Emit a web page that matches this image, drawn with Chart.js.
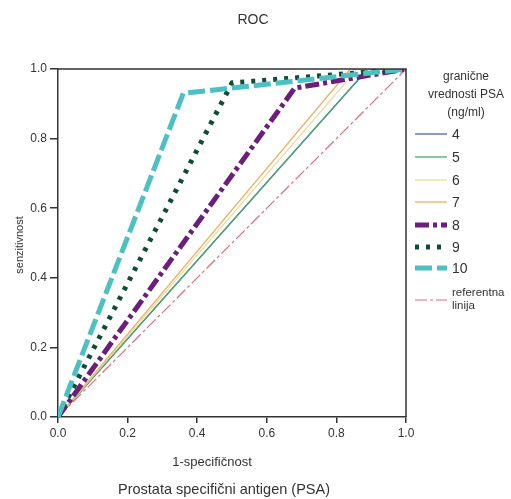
<!DOCTYPE html>
<html><head><meta charset="utf-8">
<script src="https://cdn.jsdelivr.net/npm/chart.js@4"></script>
<style>html,body{margin:0;padding:0;background:#fff}#wrap{width:511px;height:499px;position:relative}</style>
</head><body><div id="wrap"><canvas id="c" width="511" height="499"></canvas></div>
<script>
// Data
const seriesNames = ["4","5","6","7","8","9","10"];
const fpr4 = [0, 0.89, 1];   const tpr4 = [0, 1, 1];
const fpr5 = [0, 0.89, 1];   const tpr5 = [0, 1, 1];
const fpr6 = [0, 0.86, 1];   const tpr6 = [0, 1, 1];
const fpr7 = [0, 0.84, 1];   const tpr7 = [0, 1, 1];
const fpr8 = [0, 0.68, 1];   const tpr8 = [0, 0.945, 1];
const fpr9 = [0, 0.50, 1];   const tpr9 = [0, 0.96, 1];
const fpr10 = [0, 0.36, 1];  const tpr10 = [0, 0.93, 1];
const refX = [0, 1];         const refY = [0, 1];
const tickValues = [0, 0.2, 0.4, 0.6, 0.8, 1.0];

const pts = (xs, ys) => xs.map((x, i) => ({x, y: ys[i]}));
const styles = [
  {color:'#3a56a8', width:1.2, dash:[], order:6},
  {color:'#4fa86c', width:1.3, dash:[], order:5},
  {color:'#eddca4', width:1.3, dash:[], order:4},
  {color:'#e9b262', width:1.3, dash:[], order:3},
  {color:'#6b1f7a', width:5, dash:[14,4,4,4], order:2},
  {color:'#0f4a3a', width:5, dash:[4,7], order:1},
  {color:'#4cc0c2', width:5, dash:[17,5], order:0},
];
const refStyle = {color:'#d4707e', width:1.2, dash:[12,3,3,3]};
const xs = [fpr4,fpr5,fpr6,fpr7,fpr8,fpr9,fpr10];
const ys = [tpr4,tpr5,tpr6,tpr7,tpr8,tpr9,tpr10];

const datasets = seriesNames.map((n, i) => ({
  label: n, data: pts(xs[i], ys[i]), showLine: true, borderColor: styles[i].color,
  borderWidth: styles[i].width, borderDash: styles[i].dash, pointRadius: 0,
  tension: 0, fill: false, order: styles[i].order, borderCapStyle: 'butt'
}));
datasets.push({label:'referentna linija', data: pts(refX, refY), showLine:true,
  borderColor: refStyle.color, borderWidth: refStyle.width, borderDash: refStyle.dash,
  pointRadius:0, tension:0, fill:false, order:10});

const FONT = '"Liberation Sans", Arial, sans-serif';
const TXT = '#333';

const deco = {
  id: 'deco',
  afterDraw(chart) {
    const ctx = chart.ctx, a = chart.chartArea;
    ctx.save();
    // frame top and right
    ctx.strokeStyle = '#333'; ctx.lineWidth = 1.5;
    ctx.beginPath(); ctx.moveTo(a.left, a.top); ctx.lineTo(a.right, a.top); ctx.lineTo(a.right, a.bottom); ctx.stroke();
    ctx.fillStyle = TXT; ctx.textAlign = 'center'; ctx.textBaseline = 'middle';
    ctx.font = '14px ' + FONT; ctx.fillText('ROC', 253, 20);
    ctx.font = '13px ' + FONT; ctx.fillText('1-specifičnost', 212, 462);
    ctx.font = '14.5px ' + FONT; ctx.fillText('Prostata specifični antigen (PSA)', 224, 490);
    ctx.save(); ctx.translate(20, 245); ctx.rotate(-Math.PI/2);
    ctx.font = '11px ' + FONT; ctx.fillText('senzitivnost', 0, 0); ctx.restore();
    // legend
    ctx.font = '12px ' + FONT;
    ctx.fillText('granične', 466, 77); ctx.fillText('vrednosti PSA', 466, 95); ctx.fillText('(ng/ml)', 466, 113);
    const ly = [134,157,180,202,225,247,268];
    ctx.textAlign = 'left';
    seriesNames.forEach((n, i) => {
      const s = styles[i];
      ctx.strokeStyle = s.color; ctx.lineWidth = s.width; ctx.setLineDash(s.dash);
      ctx.beginPath(); ctx.moveTo(415, ly[i]); ctx.lineTo(447, ly[i]); ctx.stroke();
      ctx.setLineDash([]);
      ctx.font = '14px ' + FONT; ctx.fillText(n, 452, ly[i] + 1);
    });
    ctx.strokeStyle = refStyle.color; ctx.lineWidth = refStyle.width; ctx.setLineDash(refStyle.dash);
    ctx.beginPath(); ctx.moveTo(415, 300); ctx.lineTo(447, 300); ctx.stroke(); ctx.setLineDash([]);
    ctx.font = '11.5px ' + FONT; ctx.fillText('referentna', 452, 293); ctx.fillText('linija', 452, 306);
    ctx.restore();
  }
};

new Chart(document.getElementById('c'), {
  type: 'scatter',
  data: { datasets },
  options: {
    responsive: false, animation: false, devicePixelRatio: 1,
    layout: { padding: { left: 0, right: 105, top: 69, bottom: 0 } },
    plugins: { legend: { display: false }, tooltip: { enabled: false }, title: { display: false } },
    scales: {
      x: {
        type: 'linear', min: 0, max: 1,
        afterBuildTicks: (s) => { s.ticks = tickValues.map(v => ({value: v})); },
        afterFit: (s) => { s.height = 82; },
        ticks: { callback: v => Number(v).toFixed(1), color: TXT, font: { family: FONT, size: 12 }, padding: 3, maxRotation: 0 },
        grid: { drawOnChartArea: false, drawTicks: true, tickLength: 6, color: '#333', lineWidth: 1.5 },
        border: { display: true, color: '#333', width: 1.5 }
      },
      y: {
        type: 'linear', min: 0, max: 1,
        afterBuildTicks: (s) => { s.ticks = tickValues.map(v => ({value: v})); },
        afterFit: (s) => { s.width = 58; },
        ticks: { callback: v => Number(v).toFixed(1), color: TXT, font: { family: FONT, size: 12 }, padding: 3 },
        grid: { drawOnChartArea: false, drawTicks: true, tickLength: 8, color: '#333', lineWidth: 1.5 },
        border: { display: true, color: '#333', width: 1.5 }
      }
    }
  },
  plugins: [deco]
});
</script></body></html>
